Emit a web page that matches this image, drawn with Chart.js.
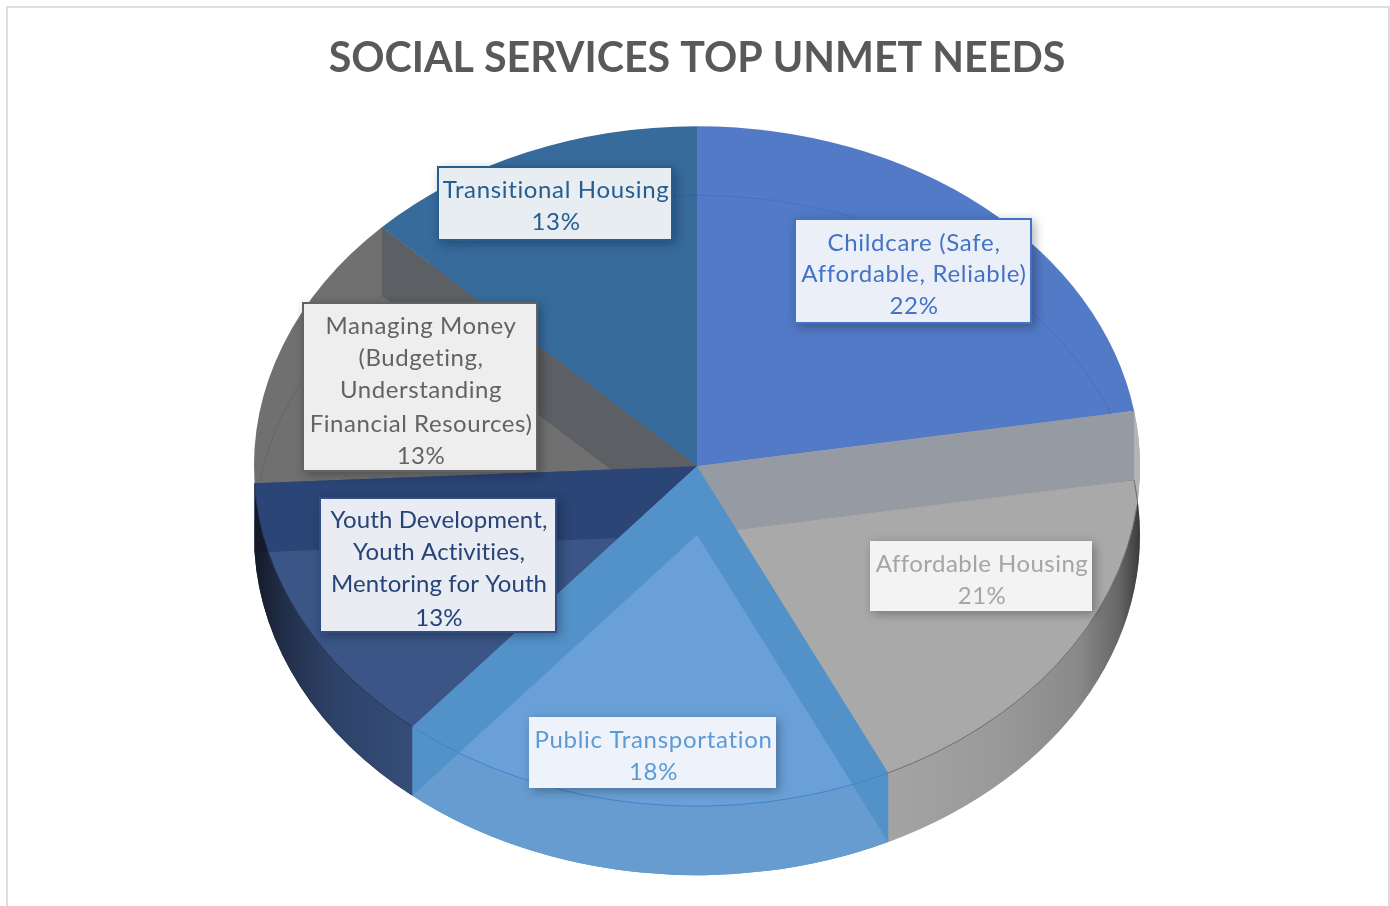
<!DOCTYPE html>
<html>
<head>
<meta charset="utf-8">
<title>Social Services Top Unmet Needs</title>
<script src="https://cdn.jsdelivr.net/npm/chart.js@4"></script>
<style>
  html, body { margin: 0; padding: 0; background: #fff; overflow: hidden; width: 1390px; height: 906px; }
  #frame { position: absolute; left: 6px; top: 6px; width: 1380px; height: 1000px; border: 2px solid #dedede; }
  #canvas { position: absolute; left: 0; top: 0; }
</style>
</head>
<body>
<div id="frame"></div>
<canvas id="canvas" width="1390" height="906"></canvas>
<script>
const titleText = 'SOCIAL SERVICES TOP UNMET NEEDS'
const categories = [
    'Childcare (Safe, Affordable, Reliable)',
    'Affordable Housing',
    'Public Transportation',
    'Youth Development, Youth Activities, Mentoring for Youth',
    'Managing Money (Budgeting, Understanding Financial Resources)',
    'Transitional Housing'
]
// labels show these rounded, the slice angles say the decimals
const shares = [22.4, 20.5, 18.2, 13.1, 13.2, 12.6]
const wrappedNames = [
    ['Childcare (Safe,', 'Affordable, Reliable)'],
    ['Affordable Housing'],
    ['Public Transportation'],
    ['Youth Development,', 'Youth Activities,', 'Mentoring for Youth'],
    ['Managing Money', '(Budgeting,', 'Understanding', 'Financial Resources)'],
    ['Transitional Housing']
]

// colours of the translucent 3d look
const topColors = ['#527ac6', '#a9a9a9', '#6aa0d8', '#3a5586', '#707070', '#376b9c']
const wallColors = ['#527ac6', '#969aa2', '#5391c9', '#2a4576', '#5c5f63', '#376b9c']
const lineColors = ['#4a70ba', '#6f6f6f', '#3f86c6', '#26385e', '#666666', '#33649a']
const edgeColors = [null, '#b4b4b4', '#5391c9', '#141a28', null, null]
const rimStops = [
    [[0, '#527ac6'], [1, '#527ac6']],
    [[0, '#a4a4a4'], [0.45, '#999999'], [0.75, '#8a8a8a'], [0.92, '#666666'], [1, '#3a3a3a']],
    [[0, '#669cd0'], [1, '#669cd0']],
    [[0, '#354d78'], [0.5, '#2e4268'], [0.82, '#212e48'], [1, '#141a28']],
    [[0, '#707070'], [1, '#707070']],
    [[0, '#376b9c'], [1, '#376b9c']]
]
const textColors = ['#4472c4', '#a5a5a5', '#5b9bd5', '#264478', '#636363', '#255e91']
const borderColors = ['#4472c4', null, null, '#2f4f86', '#636363', '#255e91']
const boxFills = ['#ebf0f8', '#f3f3f3', '#eef3fb', '#e9ecf2', '#eeeeee', '#e8edf2']
const textSpacing = [0.7, 0.45, 0.7, 0.1, 0.55, 0.65]

// back to front
const paintOrder = [5, 0, 4, 1, 3, 2]

// screen box of every data label: left, top, right, bottom, then centre of each line
const labelBoxes = [
    { box: [794, 218, 1032, 324], lines: [243, 274, 306] },
    { box: [870, 541, 1092, 611], lines: [564, 596] },
    { box: [529, 717, 776, 788], lines: [740, 772] },
    { box: [319, 497, 557, 633], lines: [520, 552, 584, 618] },
    { box: [302, 302, 538, 472], lines: [326, 358, 390, 424, 456] },
    { box: [437, 166, 673, 241], lines: [190, 222] }
]

const radiusX = 443
const radiusY = 340
const depth = 69

function sector(arc, dy) {
    const p = new Path2D()
    p.moveTo(arc.x, arc.y + dy)
    p.ellipse(arc.x, arc.y + dy, radiusX, radiusY, 0, arc.startAngle, arc.endAngle)
    p.closePath()
    return p
}

function wall(arc, angle) {
    const ex = arc.x + radiusX * Math.cos(angle)
    const ey = arc.y + radiusY * Math.sin(angle)
    const p = new Path2D()
    p.moveTo(arc.x, arc.y)
    p.lineTo(ex, ey)
    p.lineTo(ex, ey + depth)
    p.lineTo(arc.x, arc.y + depth)
    p.closePath()
    return p
}

function rim(arc) {
    const p = new Path2D()
    p.ellipse(arc.x, arc.y, radiusX, radiusY, 0, arc.startAngle, arc.endAngle)
    p.ellipse(arc.x, arc.y + depth, radiusX, radiusY, 0, arc.endAngle, arc.startAngle, true)
    p.closePath()
    return p
}

function rimPaint(ctx, arc, i) {
    // stop 0 sits at the bright end of the rim: next to the front of the pie
    const a = Math.max(arc.startAngle, 0)
    const b = arc.endAngle
    const x0 = arc.x + radiusX * Math.cos(i === 1 ? b : a)
    const x1 = arc.x + radiusX * Math.cos(i === 1 ? a : b)
    const g = ctx.createLinearGradient(x0, 0, x1, 0)
    rimStops[i].forEach(s => g.addColorStop(s[0], s[1]))
    return g
}

const pie3d = {
    id: 'pie3d',
    beforeDatasetsDraw(chart) {
        const ctx = chart.ctx
        const arcs = chart.getDatasetMeta(0).data
        paintOrder.forEach(i => {
            const arc = arcs[i]
            const top = sector(arc, 0)
            const bottom = sector(arc, depth)

            // the face itself comes from the library's arc, flattened
            ctx.save()
            ctx.translate(arc.x, arc.y)
            ctx.scale(radiusX / arc.outerRadius, radiusY / arc.outerRadius)
            ctx.translate(-arc.x, -arc.y)
            arc.draw(ctx)
            ctx.restore()

            ctx.fillStyle = wallColors[i]
            ctx.fill(wall(arc, arc.startAngle))
            ctx.fill(wall(arc, arc.endAngle))

            if (edgeColors[i]) {
                ctx.fillStyle = edgeColors[i]
                ctx.fill(rim(arc))
            }

            ctx.save()
            ctx.clip(bottom)
            ctx.fillStyle = rimPaint(ctx, arc, i)
            ctx.fillRect(0, 0, chart.width, chart.height)
            ctx.clip(top)
            ctx.fillStyle = topColors[i]
            ctx.fillRect(0, 0, chart.width, chart.height)
            ctx.restore()

            // thin rim lines seen through the slices
            ctx.strokeStyle = lineColors[i]
            ctx.lineWidth = 1
            ctx.save()
            ctx.clip(top)
            ctx.beginPath()
            ctx.ellipse(arc.x, arc.y + depth, radiusX, radiusY, 0, arc.startAngle, arc.endAngle)
            ctx.stroke()
            ctx.restore()
            if (i >= 1 && i <= 3) {
                // front edge only starts where the lower face comes out from under the top
                const from = Math.asin(Math.min(1, Math.sin(arc.startAngle) + depth / radiusY)) + 0.08
                ctx.beginPath()
                ctx.ellipse(arc.x, arc.y, radiusX, radiusY, 0, i === 1 ? from : arc.startAngle, arc.endAngle)
                ctx.stroke()
            }
        })
        return false
    },
    afterDraw(chart) {
        const ctx = chart.ctx
        labelBoxes.forEach((item, i) => {
            const [left, top, right, bottom] = item.box
            ctx.save()
            ctx.shadowColor = 'rgba(0,0,0,0.3)'
            ctx.shadowBlur = 10
            ctx.shadowOffsetX = 3
            ctx.shadowOffsetY = 3
            ctx.fillStyle = borderColors[i] || boxFills[i]
            ctx.fillRect(left, top, right - left, bottom - top)
            ctx.restore()
            if (borderColors[i]) {
                ctx.fillStyle = boxFills[i]
                ctx.fillRect(left + 2, top + 2, right - left - 4, bottom - top - 4)
            }
            const lines = wrappedNames[i].concat(Math.round(shares[i]) + '%')
            ctx.font = '24px Lato, "Open Sans", sans-serif'
            ctx.letterSpacing = textSpacing[i] + 'px'
            ctx.textAlign = 'center'
            ctx.textBaseline = 'middle'
            ctx.fillStyle = textColors[i]
            lines.forEach((line, n) => {
                ctx.fillText(line, (left + right) / 2 + 1, item.lines[n])
            })
        })
    }
}

const data = {
    labels: categories,
    datasets: [
        {
            data: shares,
            backgroundColor: topColors,
            borderWidth: 0
        }
    ]
}

const config = {
    type: 'pie',
    data: data,
    plugins: [pie3d],
    options: {
        responsive: false,
        animation: false,
        layout: { padding: { left: 4, bottom: 77 } },
        plugins: {
            legend: { display: false },
            tooltip: { enabled: false },
            title: {
                display: true,
                text: titleText,
                color: '#595959',
                font: { family: 'Lato, "Open Sans", sans-serif', size: 41.2, weight: 'bold' },
                padding: { top: 34, bottom: 20 }
            }
        }
    }
}
const canvas = document.getElementById('canvas')
const chart = new Chart(canvas, config)
</script>
</body>
</html>
